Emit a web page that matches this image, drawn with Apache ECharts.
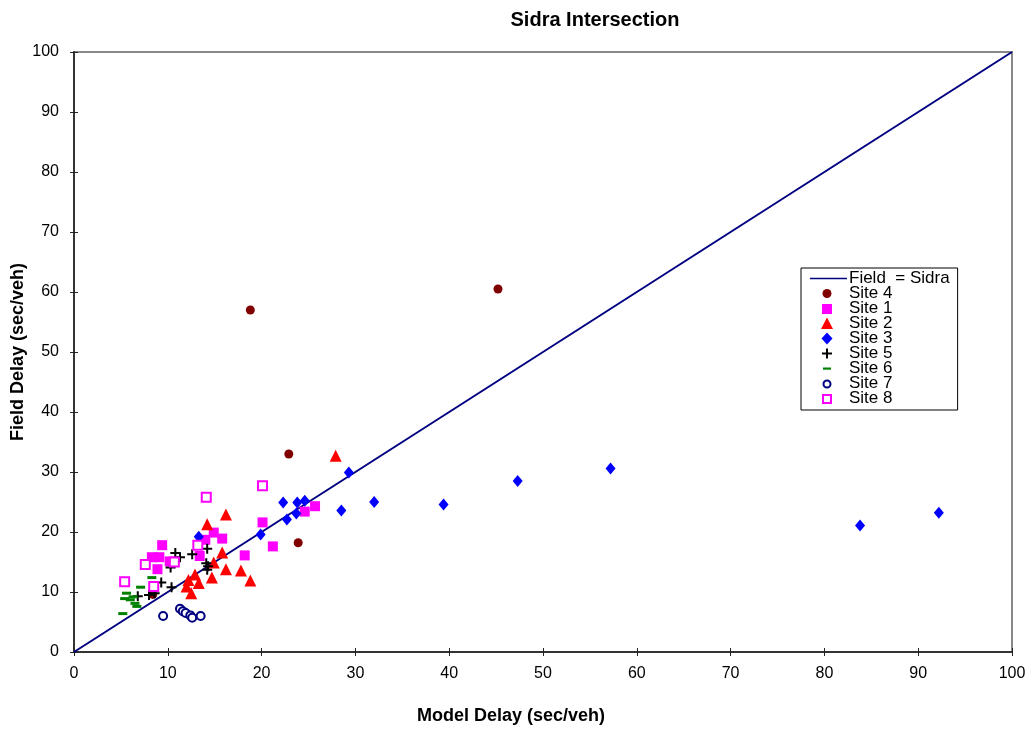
<!DOCTYPE html>
<html>
<head>
<meta charset="utf-8">
<script src="https://cdn.jsdelivr.net/npm/echarts@6/dist/echarts.min.js"></script>
<style>html,body{margin:0;padding:0;background:#fff}#c{width:1028px;height:732px}</style>
</head>
<body>
<div id="c"></div>
<script>
var chartTitle = 'Sidra Intersection';
var xName = 'Model Delay (sec/veh)';
var yName = 'Field Delay (sec/veh)';
var lineName = 'Field  = Sidra';
var lineData = [[0, 0], [100, 100]];
var site4 = [[18.8, 57.0], [45.2, 60.5], [22.9, 33.0], [23.9, 18.2], [8.4, 9.6]];
var site1 = [[8.3, 15.8], [9.1, 15.8], [8.9, 13.8], [9.4, 17.8], [10.2, 15.1], [13.4, 16.0], [14.0, 18.7], [14.9, 19.9], [15.8, 18.9], [18.2, 16.1], [20.1, 21.6], [21.2, 17.6], [24.6, 23.4], [25.7, 24.3]];
var site2 = [[27.9, 32.7], [16.2, 22.9], [14.2, 21.3], [15.8, 16.6], [14.9, 14.9], [16.2, 13.8], [17.8, 13.6], [18.8, 11.9], [14.7, 12.4], [12.9, 12.9], [13.3, 11.5], [12.0, 10.9], [12.5, 9.8], [12.2, 12.0]];
var site3 = [[13.3, 19.2], [19.9, 19.6], [22.3, 24.9], [22.7, 22.1], [23.7, 23.1], [23.8, 24.9], [24.6, 25.2], [28.5, 23.6], [29.3, 29.9], [32.0, 25.0], [39.4, 24.6], [47.3, 28.5], [57.2, 30.6], [83.8, 21.1], [92.2, 23.2]];
var site5 = [[6.8, 9.3], [8.0, 9.5], [8.6, 9.8], [9.3, 11.6], [10.4, 10.8], [10.3, 14.1], [10.8, 16.5], [11.3, 15.8], [12.6, 16.3], [14.2, 17.2], [14.1, 14.8], [14.2, 13.7], [14.3, 14.3]];
var site6 = [[8.3, 12.4], [7.1, 10.8], [5.6, 9.8], [5.4, 8.9], [6.0, 8.7], [6.5, 8.1], [6.7, 7.6], [5.2, 6.4], [6.3, 9.2]];
var site7 = [[9.5, 6.0], [11.3, 7.2], [11.6, 6.8], [11.9, 6.5], [12.4, 6.1], [12.6, 5.7], [13.5, 6.0]];
var site8 = [[5.4, 11.7], [7.6, 14.6], [8.5, 10.9], [10.7, 15.0], [13.2, 17.8], [14.1, 25.8], [20.1, 27.7]];

var FONT = 'Liberation Sans, Arial, sans-serif';
var chart = echarts.init(document.getElementById('c'));
var plus = 'path://M4,0H6V4H10V6H6V10H4V6H0V4H4Z';

// legend icon paths (37x12 box, marker centred at x=17)
var BOX = 'path://M0,0L0,0M37,12L37,12';
var icons = {
  line: BOX + 'M0,5.2H37V6.8H0Z',
  circle: BOX + 'M12.5,6A4.5,4.5,0,1,1,21.5,6A4.5,4.5,0,1,1,12.5,6Z',
  rect: BOX + 'M12,1.5H22V11.5H12Z',
  triangle: BOX + 'M17,0L23,11.5H11Z',
  diamond: BOX + 'M17,0L22.5,6L17,12L11.5,6Z',
  plus: BOX + 'M16,1H18V5H22V7H18V11H16V7H12V5H16Z',
  dash: BOX + 'M13,5H21V7.2H13Z',
  ring: BOX + 'M12.5,6.5A4.5,4.5,0,1,1,21.5,6.5A4.5,4.5,0,1,1,12.5,6.5ZM14.5,6.5A2.5,2.5,0,1,0,19.5,6.5A2.5,2.5,0,1,0,14.5,6.5Z',
  box: BOX + 'M12,1.5H22V11.5H12ZM14,3.5V9.5H20V3.5Z'
};

function scat(name, data, symbol, size, color, extra) {
  return {
    name: name, type: 'scatter', data: data, symbol: symbol, symbolSize: size,
    itemStyle: Object.assign({ color: color, opacity: 1 }, extra || {}),
    emphasis: { disabled: true }, z: 3
  };
}

var axisCommon = { type: 'value', min: 0, max: 100, interval: 10, splitLine: { show: false } };
var noBorder = { borderWidth: 0 };

chart.setOption({
  animation: false,
  backgroundColor: '#fff',
  title: {
    text: chartTitle, left: 590, top: 5, textAlign: 'center',
    textStyle: { fontFamily: FONT, fontSize: 20, fontWeight: 'bold', color: '#000' }
  },
  grid: { left: 74, right: 16, top: 52, bottom: 80, show: true, borderColor: '#888', borderWidth: 2,
    backgroundColor: 'transparent', containLabel: false, outerBoundsMode: 'none' },
  legend: {
    orient: 'vertical', left: 801, top: 268,
    backgroundColor: '#fff', borderColor: '#000', borderWidth: 1,
    padding: [2, 8, 3, 9], itemGap: -2, itemWidth: 37, itemHeight: 12, symbolKeepAspect: true,
    textStyle: { fontFamily: FONT, fontSize: 17, color: '#000', lineHeight: 15, padding: [0, 0, 0, -3] },
    data: [
      { name: lineName, icon: icons.line, itemStyle: noBorder },
      { name: 'Site 4', icon: icons.circle, itemStyle: noBorder },
      { name: 'Site 1', icon: icons.rect, itemStyle: noBorder },
      { name: 'Site 2', icon: icons.triangle, itemStyle: noBorder },
      { name: 'Site 3', icon: icons.diamond, itemStyle: noBorder },
      { name: 'Site 5', icon: icons.plus, itemStyle: noBorder },
      { name: 'Site 6', icon: icons.dash, itemStyle: noBorder },
      { name: 'Site 7', icon: icons.ring, itemStyle: { borderWidth: 0, color: '#000080' } },
      { name: 'Site 8', icon: icons.box, itemStyle: { borderWidth: 0, color: '#FF00FF' } }
    ]
  },
  xAxis: [
    Object.assign({}, axisCommon, {
      name: xName, nameLocation: 'middle', nameGap: 55, nameMoveOverlap: false,
      nameTextStyle: { fontFamily: FONT, fontSize: 18, fontWeight: 'bold', color: '#000', padding: [0, 64, 0, 0] },
      axisLine: { lineStyle: { color: '#333', width: 2 } },
      axisTick: { length: 4, lineStyle: { color: '#222' } },
      axisLabel: { fontFamily: FONT, fontSize: 16, color: '#000', margin: 14 }
    }),
    Object.assign({}, axisCommon, {
      position: 'bottom', axisLine: { show: false },
      axisTick: { inside: true, length: 4, lineStyle: { color: '#222' } },
      axisLabel: { show: false }
    })
  ],
  yAxis: [
    Object.assign({}, axisCommon, {
      name: yName, nameLocation: 'middle', nameGap: 47, nameMoveOverlap: false,
      nameTextStyle: { fontFamily: FONT, fontSize: 18, fontWeight: 'bold', color: '#000' },
      axisLine: { lineStyle: { color: '#333', width: 2 } },
      axisTick: { length: 4, lineStyle: { color: '#222' } },
      axisLabel: { fontFamily: FONT, fontSize: 16, color: '#000', margin: 15 }
    }),
    Object.assign({}, axisCommon, {
      position: 'left', axisLine: { show: false },
      axisTick: { inside: true, length: 4, lineStyle: { color: '#222' } },
      axisLabel: { show: false }
    })
  ],
  series: [
    { name: lineName, type: 'line', data: lineData, symbol: 'none', showSymbol: false,
      lineStyle: { color: '#000080', width: 2 }, itemStyle: { color: '#000080' }, z: 2, emphasis: { disabled: true } },
    scat('Site 4', site4, 'circle', 9, '#800000'),
    scat('Site 1', site1, 'rect', 10, '#FF00FF'),
    scat('Site 2', site2, 'triangle', 12, '#FF0000'),
    scat('Site 3', site3, 'diamond', [10, 12], '#0000FF'),
    scat('Site 5', site5, plus, 10, '#000000'),
    scat('Site 6', site6, 'rect', [9, 3], '#008000'),
    scat('Site 7', site7, 'emptyCircle', 8, '#000080', { borderWidth: 2 }),
    scat('Site 8', site8, 'emptyRect', 9, '#FF00FF', { borderWidth: 2 })
  ]
});
</script>
</body>
</html>
